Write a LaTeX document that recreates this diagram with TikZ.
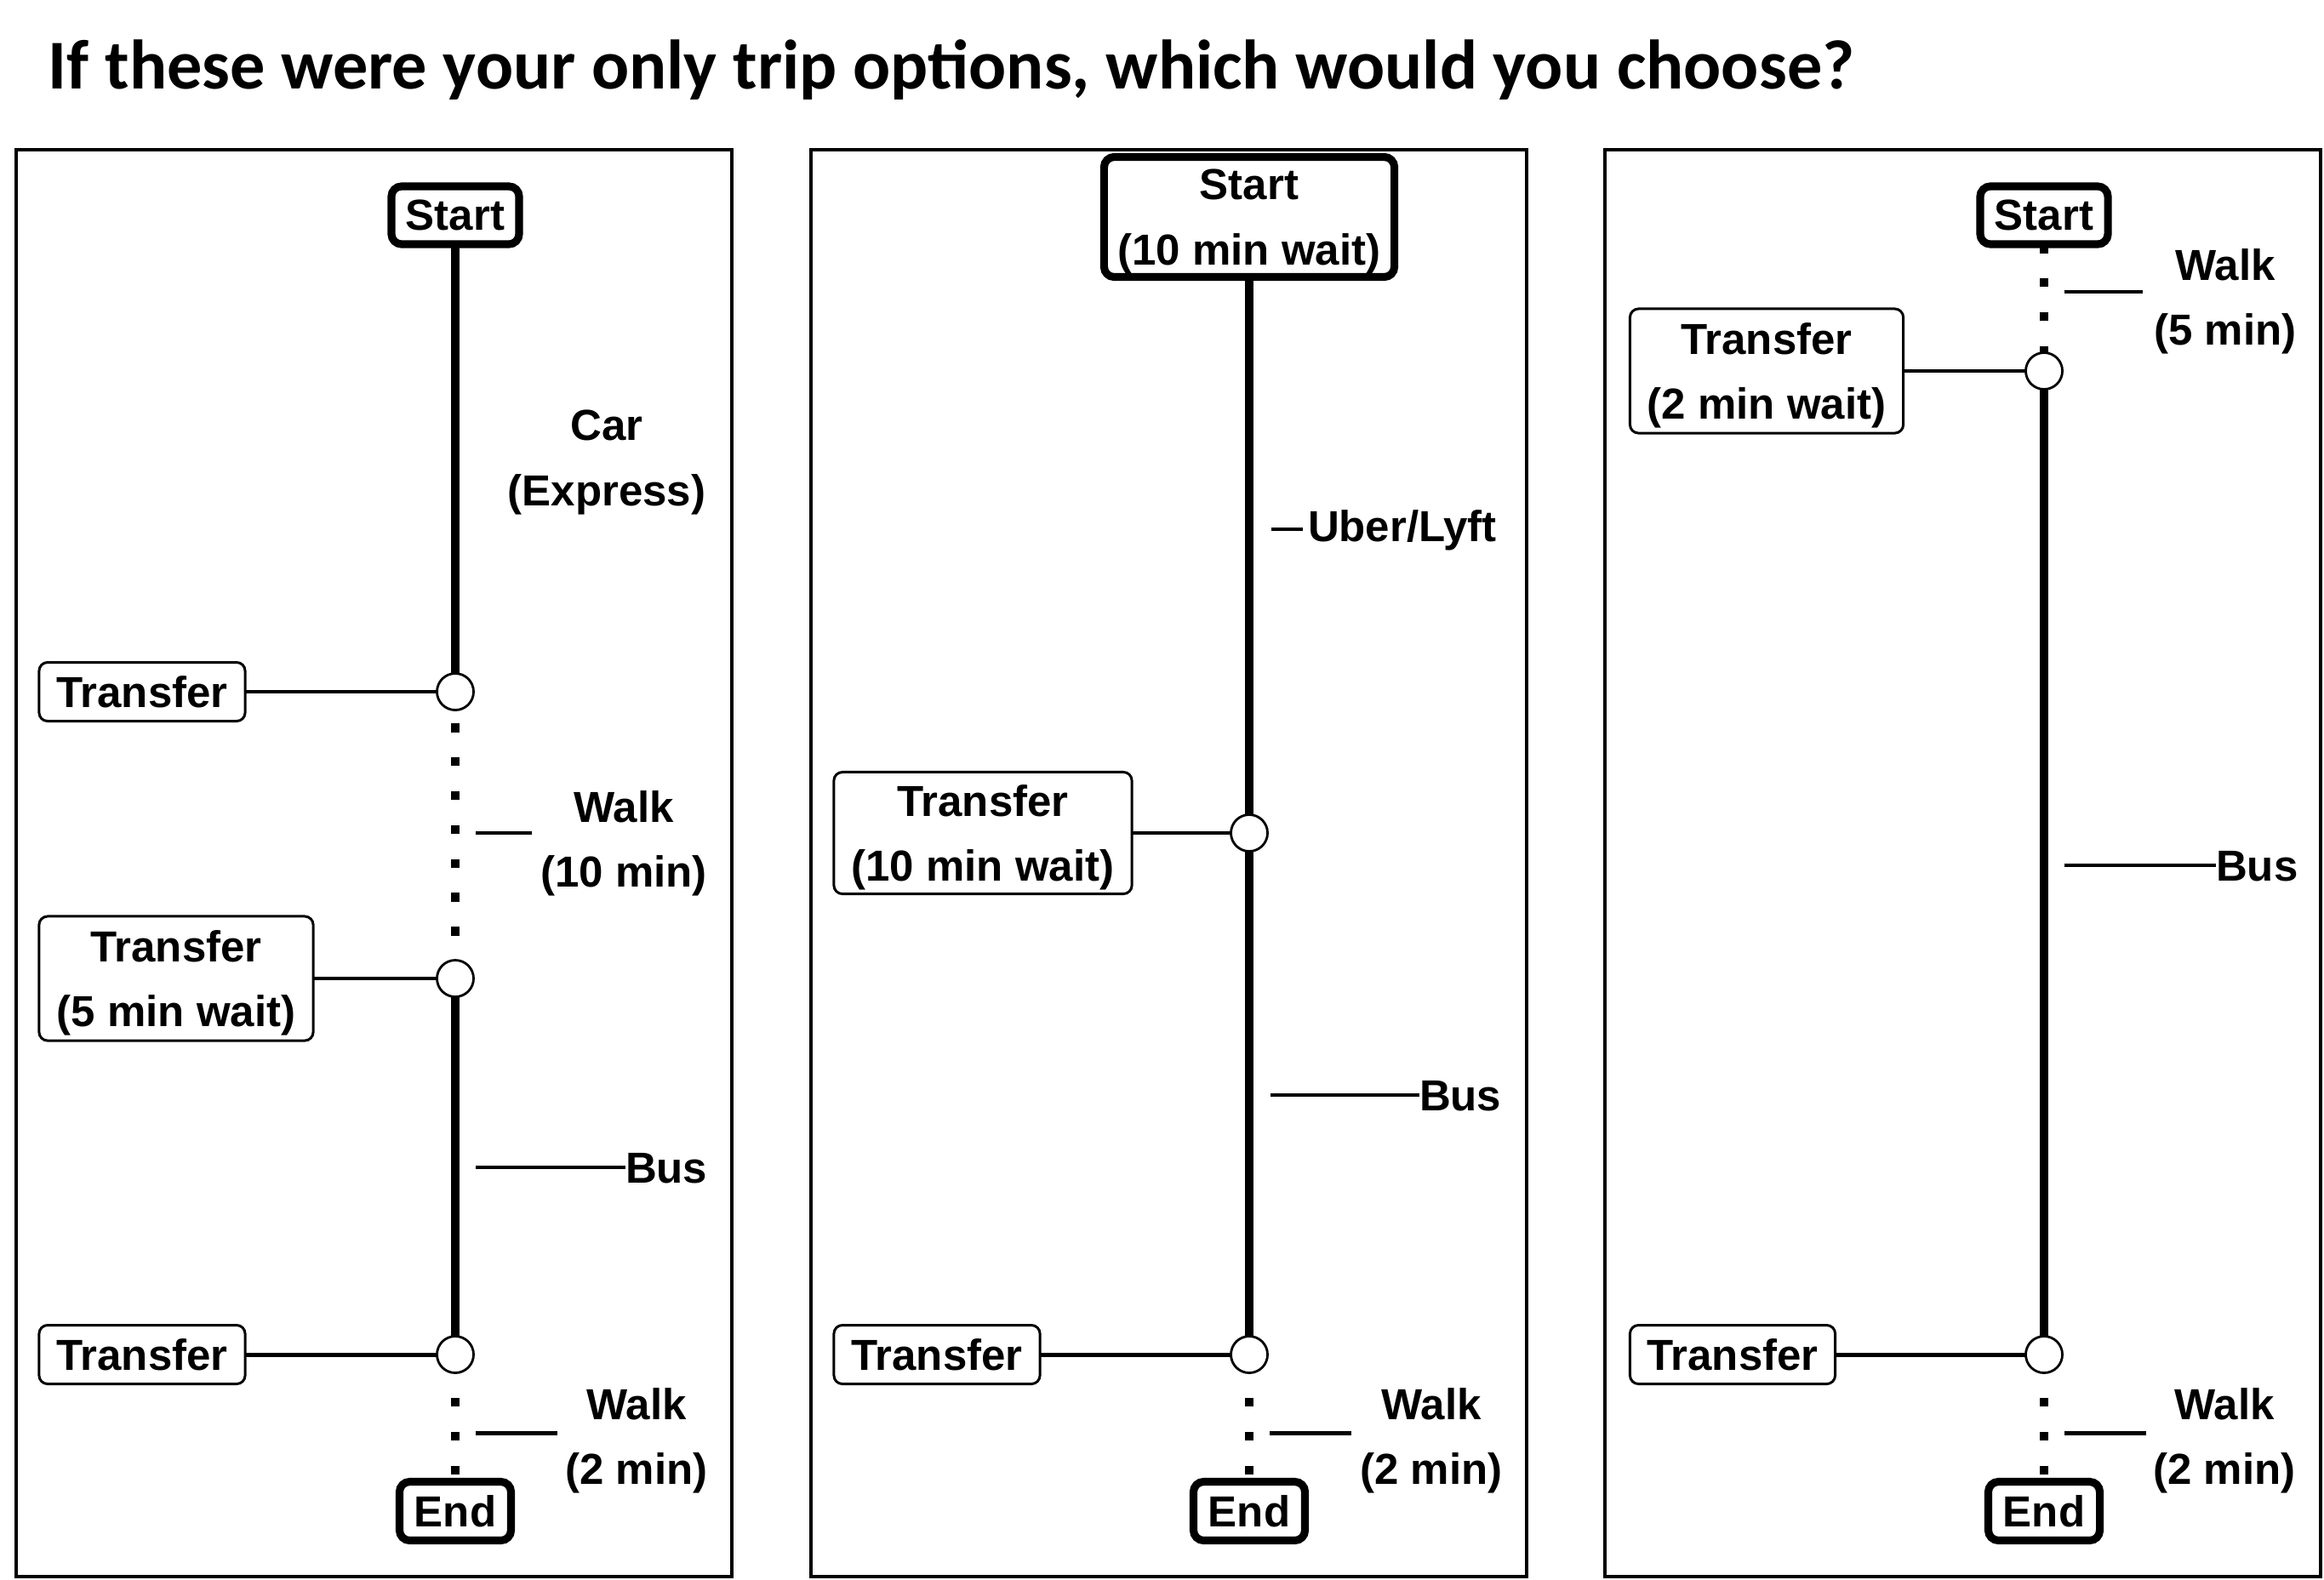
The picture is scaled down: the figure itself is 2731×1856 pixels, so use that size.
\documentclass[tikz,border=0pt]{standalone}
\usepackage{fontspec}
\setmainfont{Liberation Sans}
\newfontfamily\titlefont{Carlito}
\begin{document}
\begin{tikzpicture}[x=0.01cm,y=-0.01cm,
  every node/.style={outer sep=0pt},
  txt/.style={font=\fontsize{14.5}{21.8}\selectfont\bfseries, align=center, inner sep=0pt, text depth=0pt},
  lbl/.style={txt},
  term/.style={txt, draw, line width=2.6pt, rounded corners=0.12cm, fill=white},
  xfer/.style={txt, draw, line width=0.85pt, rounded corners=0.1cm, fill=white},
  stopc/.style={circle, draw, line width=0.8pt, fill=white, minimum size=0.43cm, inner sep=0pt},
  ride/.style={line width=2.7pt},
  walkline/.style={line width=3pt, dash pattern=on 3pt off 8.34pt},
  link/.style={line width=1.4pt},
  tickline/.style={line width=1.4pt},
  panel/.style={draw, line width=1.2pt}
]
\useasboundingbox[fill=white] (0,0) rectangle (2731,1856);

% title
\node[anchor=base west, inner sep=0pt, font=\titlefont\fontsize{23.4}{28}\selectfont\bfseries] (title) at (57,104)
  {If these were your only trip options, which would you choose?};

% panels
\draw[panel] (19,176) rectangle (860,1853);
\draw[panel] (953,176) rectangle (1794,1853);
\draw[panel] (1886,176) rectangle (2727,1853);

% ---------------- Panel 1 ----------------
\node[term, minimum width=1.50cm, minimum height=0.68cm] (s1) at (535,253) {Start};
\node[stopc] (c1a) at (535,813) {};
\node[xfer, minimum width=2.42cm, minimum height=0.69cm] (t1a) at (167,813) {Transfer};
\node[stopc] (c1b) at (535,1150) {};
\node[xfer, minimum width=3.22cm, minimum height=1.46cm] (t1b) at (207,1150) {Transfer\\(5 min wait)};
\node[stopc] (c1c) at (535,1592) {};
\node[xfer, minimum width=2.42cm, minimum height=0.69cm] (t1c) at (167,1592) {Transfer};
\node[term, minimum width=1.31cm, minimum height=0.69cm] (e1) at (535,1776) {End};

\draw[ride] (s1) -- (c1a);
\draw[walkline, dash phase=6.94pt] (c1a) -- (c1b);
\draw[ride] (c1b) -- (c1c);
\draw[walkline, dash phase=3pt] (c1c) -- (e1);
\draw[link] (t1a) -- (c1a);
\draw[link] (t1b) -- (c1b);
\draw[link] (t1c) -- (c1c);

\node[lbl] (car1) at (713,538) {Car\\(Express)};
\node[lbl] (wk1a) at (733,986) {Walk\\(10 min)};
\coordinate (wk1aL) at (559,979); \coordinate (wk1aR) at (625,979);
\draw[tickline] (wk1aL) -- (wk1aR);
\node[lbl, anchor=base west] (bus1) at (735,1390) {Bus};
\coordinate (bus1L) at (559,1372);
\draw[tickline] (bus1L) -- (bus1L -| bus1.west);
\node[lbl] (wk1b) at (748,1688) {Walk\\(2 min)};
\coordinate (wk1bL) at (559,1684); \coordinate (wk1bR) at (655,1684);
\draw[tickline] (wk1bL) -- (wk1bR);

% ---------------- Panel 2 ----------------
\node[term, minimum width=3.41cm, minimum height=1.41cm] (s2) at (1468,255) {Start\\(10 min wait)};
\node[stopc] (c2a) at (1468,979) {};
\node[xfer, minimum width=3.50cm, minimum height=1.43cm] (t2a) at (1155,979) {Transfer\\(10 min wait)};
\node[stopc] (c2b) at (1468,1592) {};
\node[xfer, minimum width=2.42cm, minimum height=0.69cm] (t2b) at (1101,1592) {Transfer};
\node[term, minimum width=1.31cm, minimum height=0.69cm] (e2) at (1468,1776) {End};

\draw[ride] (s2) -- (c2a);
\draw[ride] (c2a) -- (c2b);
\draw[walkline, dash phase=3pt] (c2b) -- (e2);
\draw[link] (t2a) -- (c2a);
\draw[link] (t2b) -- (c2b);

\node[lbl, anchor=base west] (uber2) at (1537,636) {Uber/Lyft};
\coordinate (uber2L) at (1494,622); \coordinate (uber2R) at (1531,622);
\draw[tickline] (uber2L) -- (uber2R);
\node[lbl, anchor=base west] (bus2) at (1668,1305) {Bus};
\coordinate (bus2L) at (1493,1287);
\draw[tickline] (bus2L) -- (bus2L -| bus2.west);
\node[lbl] (wk2) at (1682,1688) {Walk\\(2 min)};
\coordinate (wk2L) at (1492,1684); \coordinate (wk2R) at (1588,1684);
\draw[tickline] (wk2L) -- (wk2R);

% ---------------- Panel 3 ----------------
\node[term, minimum width=1.50cm, minimum height=0.68cm] (s3) at (2402,253) {Start};
\node[stopc] (c3a) at (2402,436) {};
\node[xfer, minimum width=3.21cm, minimum height=1.46cm] (t3a) at (2076,436) {Transfer\\(2 min wait)};
\node[stopc] (c3b) at (2402,1592) {};
\node[xfer, minimum width=2.41cm, minimum height=0.69cm] (t3b) at (2036,1592) {Transfer};
\node[term, minimum width=1.31cm, minimum height=0.69cm] (e3) at (2402,1776) {End};

\draw[walkline, dash phase=0pt] (s3) -- (c3a);
\draw[ride] (c3a) -- (c3b);
\draw[walkline, dash phase=3pt] (c3b) -- (e3);
\draw[link] (t3a) -- (c3a);
\draw[link] (t3b) -- (c3b);

\node[lbl] (wk3a) at (2615,349) {Walk\\(5 min)};
\coordinate (wk3aL) at (2426,343); \coordinate (wk3aR) at (2518,343);
\draw[tickline] (wk3aL) -- (wk3aR);
\node[lbl, anchor=base west] (bus3) at (2604,1035) {Bus};
\coordinate (bus3L) at (2426,1017);
\draw[tickline] (bus3L) -- (bus3L -| bus3.west);
\node[lbl] (wk3b) at (2614,1688) {Walk\\(2 min)};
\coordinate (wk3bL) at (2426,1684); \coordinate (wk3bR) at (2522,1684);
\draw[tickline] (wk3bL) -- (wk3bR);
\end{tikzpicture}
\end{document}
